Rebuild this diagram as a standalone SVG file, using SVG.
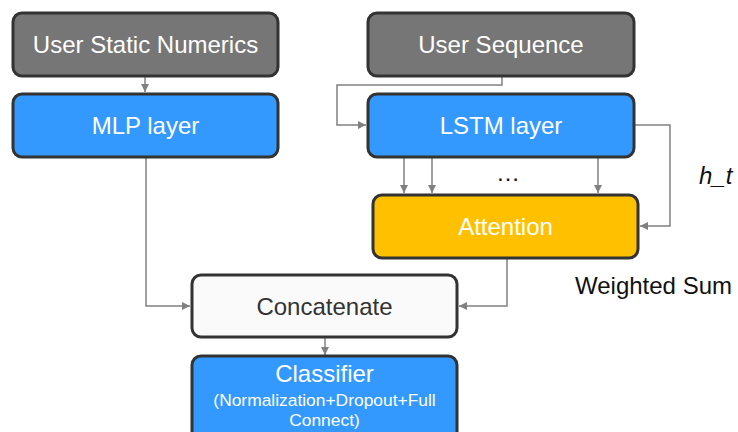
<svg xmlns="http://www.w3.org/2000/svg" width="738" height="432" viewBox="0 0 738 432">
  <style>
    .box { stroke: #333333; stroke-width: 3; }
    .input { fill: #767676; }
    .layer { fill: #3399FF; }
    .attn { fill: #FFC000; }
    .plain { fill: #FAFAFA; }
    .lbl { font-family: "Liberation Sans", Arial, sans-serif; font-size: 24px; fill: #FFFFFF; text-anchor: middle; }
    .dark { fill: #333333; }
    .small { font-size: 17.4px; }
    .note { font-family: "Liberation Sans", Arial, sans-serif; font-size: 24px; fill: #111111; }
    .wire { fill: none; stroke: #808080; stroke-width: 1.5; }
  </style>
  <defs>
    <marker id="arrow" viewBox="0 0 10 10" refX="10" refY="5" markerWidth="8" markerHeight="8" markerUnits="userSpaceOnUse" orient="auto">
      <path d="M0,0 L10,5 L0,10 z" fill="#808080"/>
    </marker>
  </defs>

  <g id="connectors">
    <path class="wire" d="M145,77 V92" marker-end="url(#arrow)"/>
    <path class="wire" d="M502,77 V85 H337 V125 H366" marker-end="url(#arrow)"/>
    <path class="wire" d="M404,158 V193" marker-end="url(#arrow)"/>
    <path class="wire" d="M432,158 V193" marker-end="url(#arrow)"/>
    <path class="wire" d="M598,158 V193" marker-end="url(#arrow)"/>
    <path class="wire" d="M635,125 H670 V226 H640" marker-end="url(#arrow)"/>
    <path class="wire" d="M146,158 V306 H190" marker-end="url(#arrow)"/>
    <path class="wire" d="M507,259 V306 H459" marker-end="url(#arrow)"/>
    <path class="wire" d="M325,338 V355" marker-end="url(#arrow)"/>
  </g>

  <g id="user-static-numerics">
    <rect class="box input" x="13" y="13" width="265" height="63" rx="9"/>
    <text class="lbl" x="145.5" y="53">User Static Numerics</text>
  </g>
  <g id="mlp-layer">
    <rect class="box layer" x="13" y="94" width="265" height="63" rx="9"/>
    <text class="lbl" x="145.5" y="134">MLP layer</text>
  </g>
  <g id="user-sequence">
    <rect class="box input" x="368" y="13" width="266" height="63" rx="9"/>
    <text class="lbl" x="501" y="53">User Sequence</text>
  </g>
  <g id="lstm-layer">
    <rect class="box layer" x="368" y="94" width="266" height="63" rx="9"/>
    <text class="lbl" x="501" y="134">LSTM layer</text>
  </g>
  <g id="attention">
    <rect class="box attn" x="373" y="195" width="265" height="63" rx="9"/>
    <text class="lbl" x="505.5" y="235">Attention</text>
  </g>
  <g id="concatenate">
    <rect class="box plain" x="192" y="275" width="265" height="62" rx="9"/>
    <text class="lbl dark" x="324.5" y="315">Concatenate</text>
  </g>
  <g id="classifier">
    <rect class="box layer" x="192" y="356" width="265" height="90" rx="9"/>
    <text class="lbl" x="324.5" y="382">Classifier</text>
    <text class="lbl small" x="324.5" y="406">(Normalization+Dropout+Full</text>
    <text class="lbl small" x="324.5" y="426">Connect)</text>
  </g>

  <g id="annotations">
    <text class="note" x="508" y="181" text-anchor="middle">…</text>
    <text class="note" x="699" y="184" font-style="italic">h_t</text>
    <text class="note" x="575" y="294">Weighted Sum</text>
  </g>
</svg>
